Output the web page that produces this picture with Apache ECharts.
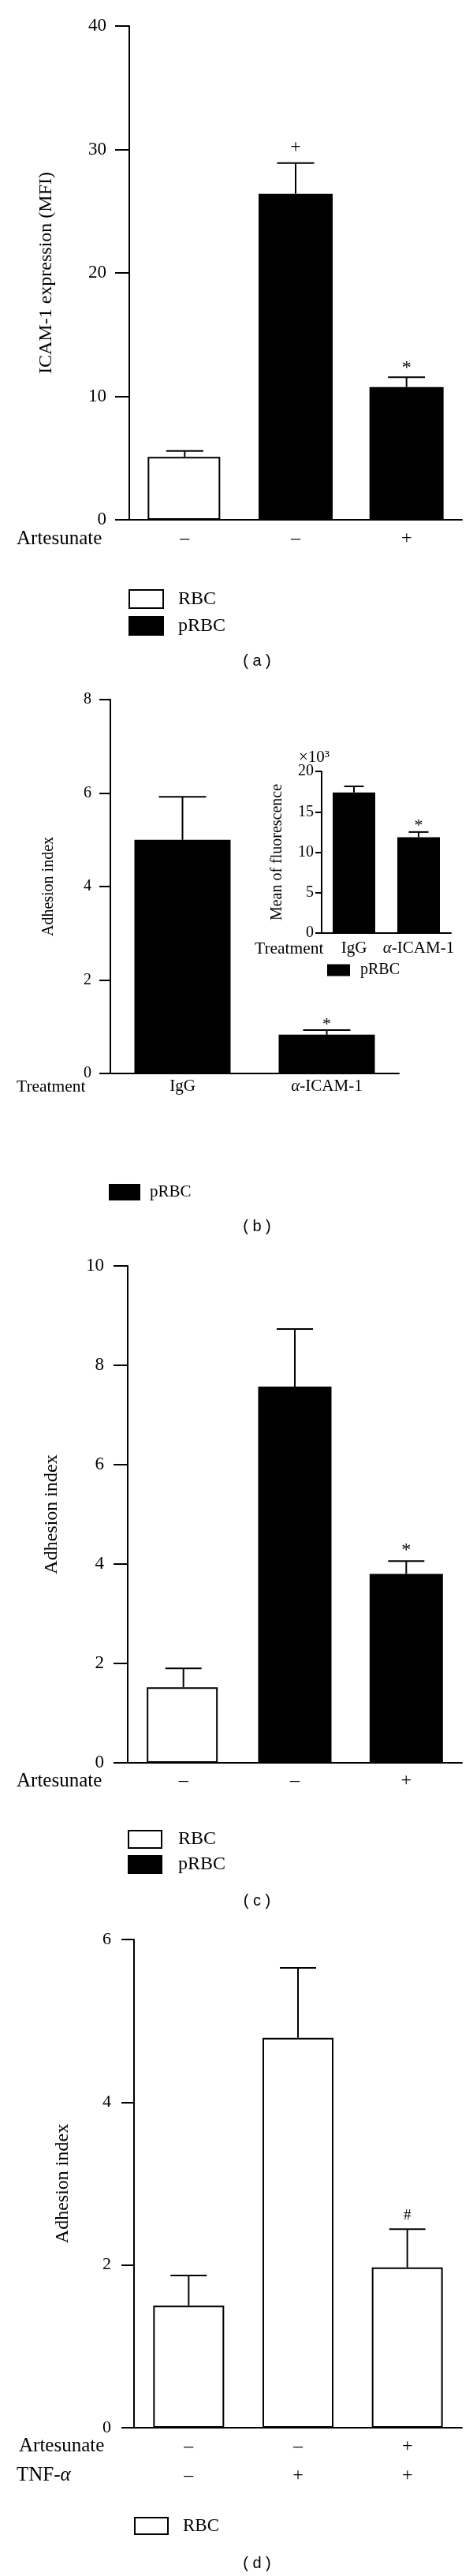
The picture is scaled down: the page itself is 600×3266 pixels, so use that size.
<!DOCTYPE html>
<html><head><meta charset="utf-8">
<script src="https://cdn.jsdelivr.net/npm/echarts@6/dist/echarts.min.js"></script>
<style>html,body{margin:0;padding:0;background:#fff}#c{width:600px;height:3266px}</style>
</head><body><div id="c"></div>
<script>
// ---------- Panel (a) ----------
const aArtesunate = ['–', '–', '+'];
const aRBC = [5.1, '-', '-'];
const aPRBC = ['-', 26.4, 10.75];
const aErr = [0.47, 2.5, 0.8];
const aMarks = ['', '+', '*'];
// ---------- Panel (b) main ----------
const bTreatment = ['IgG', 'α-ICAM-1'];
const bPRBC = [5.0, 0.83];
const bErr = [0.92, 0.1];
const bMarks = ['', '*'];
// ---------- Panel (b) inset (×10³) ----------
const biTreatment = ['IgG', 'α-ICAM-1'];
const biPRBC = [17.4, 11.85];
const biErr = [0.75, 0.65];
const biMarks = ['', '*'];
// ---------- Panel (c) ----------
const cArtesunate = ['–', '–', '+'];
const cRBC = [1.52, '-', '-'];
const cPRBC = ['-', 7.57, 3.80];
const cErr = [0.38, 1.16, 0.26];
const cMarks = ['', '', '*'];
// ---------- Panel (d) ----------
const dArtesunate = ['–', '–', '+'];
const dTNF = ['–', '+', '+'];
const dRBC = [1.50, 4.79, 1.97];
const dErr = [0.37, 0.86, 0.47];
const dMarks = ['', '', '#'];

const SERIF = 'Liberation Serif';
const SANS = 'Liberation Sans';

function merge(x, y) { return x.map((v, i) => (v === '-' ? y[i] : v)); }

function errSeries(idx, means, errs, marks, capHalf, markSize, markGaps) {
  return {
    type: 'custom', xAxisIndex: idx, yAxisIndex: idx, z: 5, silent: true,
    data: means.map((m, i) => [i, m, errs[i]]),
    renderItem(params, api) {
      const x = api.value(0), m = api.value(1), e = api.value(2);
      const p0 = api.coord([x, m]), p1 = api.coord([x, m + e]);
      const ch = [
        { type: 'line', shape: { x1: p0[0], y1: p0[1], x2: p1[0], y2: p1[1] }, style: { stroke: '#000', lineWidth: 2 } },
        { type: 'line', shape: { x1: p1[0] - capHalf, y1: p1[1], x2: p1[0] + capHalf, y2: p1[1] }, style: { stroke: '#000', lineWidth: 2 } }
      ];
      const mk = marks[params.dataIndex];
      if (mk) ch.push({ type: 'text', style: { text: mk, x: p1[0], y: p1[1] - (markGaps[mk] || 14), align: 'center', verticalAlign: 'middle', fontFamily: SERIF, fontSize: markSize, fill: '#000' } });
      return { type: 'group', children: ch };
    }
  };
}

function yAx(idx, max, interval, name, nameSize, nameGap, labelSize, margin, tickLen) {
  return {
    type: 'value', gridIndex: idx, min: 0, max: max, interval: interval,
    name: name, nameLocation: 'middle', nameGap: nameGap,
    nameTextStyle: { fontFamily: SERIF, fontSize: nameSize, color: '#000' },
    axisLine: { show: true, lineStyle: { color: '#000', width: 2 } },
    axisTick: { show: true, length: tickLen, lineStyle: { color: '#000', width: 2 } },
    splitLine: { show: false },
    axisLabel: { fontFamily: SERIF, fontSize: labelSize, color: '#000', margin: margin }
  };
}
function xAx(idx, data, labelSize, margin, lineHeight) {
  const lbl = { fontFamily: SERIF, fontSize: labelSize, color: '#000', margin: margin, interval: 0,
    formatter: v => v.replace('α', '{i|α}'),
    rich: { i: { fontStyle: 'italic', fontFamily: SERIF, fontSize: labelSize, color: '#000' } } };
  if (lineHeight) { lbl.lineHeight = lineHeight; lbl.rich.i.lineHeight = lineHeight; }
  return {
    type: 'category', gridIndex: idx, data: data,
    axisLine: { show: true, lineStyle: { color: '#000', width: 2 } },
    axisTick: { show: false },
    axisLabel: lbl
  };
}

const whiteBar = { color: '#fff', borderColor: '#000', borderWidth: 2 };
const blackBar = { color: '#000' };

function txt(x, y, text, size, family, align, rich) {
  return { type: 'text', x: x, y: y, silent: true,
    style: { text: text, fontFamily: family || SERIF, fontSize: size, fill: '#000',
      align: align || 'left', verticalAlign: 'middle', textAlign: align || 'left', textVerticalAlign: 'middle',
      rich: rich } };
}
function leg(left, top, w, h, gap, names, size, pad) {
  return { left: left, top: top, orient: 'vertical', padding: 0, itemWidth: w, itemHeight: h, itemGap: gap,
    selectedMode: false, icon: 'rect', data: names,
    itemStyle: { borderColor: '#000', borderWidth: 2 },
    textStyle: { fontFamily: SERIF, fontSize: size, color: '#000', padding: [0, 0, 0, pad] } };
}

const option = {
  animation: false,
  backgroundColor: '#fff',
  grid: [
    { left: 164, top: 33, width: 422, height: 626 },
    { left: 140, top: 887, width: 366, height: 474 },
    { left: 408, top: 978, width: 164, height: 205 },
    { left: 162, top: 1605, width: 424, height: 630 },
    { left: 170, top: 2459, width: 416, height: 619 }
  ],
  xAxis: [
    xAx(0, aArtesunate, 24, 12),
    xAx(1, bTreatment, 21, 6),
    xAx(2, biTreatment, 21, 9),
    xAx(3, cArtesunate, 24, 11),
    xAx(4, dArtesunate.map((a, i) => a + '\n' + dTNF[i]), 24, 5, 37)
  ],
  yAxis: [
    yAx(0, 40, 10, 'ICAM-1 expression (MFI)', 24, 93, 23, 29, 18),
    yAx(1, 8, 2, 'Adhesion index', 20, 68, 20, 24, 14),
    yAx(2, 20, 5, 'Mean of fluorescence', 20, 46, 20, 10, 8),
    yAx(3, 10, 2, 'Adhesion index', 24, 84, 23, 30, 18),
    yAx(4, 6, 2, 'Adhesion index', 24, 78, 22, 29, 16)
  ],
  legend: [
    leg(163, 747, 43, 23, 9, ['RBC', 'pRBC'], 24, 14),
    leg(138, 1501, 38, 19, 10, ['pRBC'], 21, 8),
    leg(415, 1220, 27, 13, 10, ['pRBC'], 20, 9),
    leg(162, 2320, 42, 22, 8, ['RBC', 'pRBC'], 24, 16),
    leg(170, 3191, 42, 21, 10, ['RBC'], 23, 14)
  ],
  graphic: [
    txt(21, 683, 'Artesunate', 25),
    txt(326, 838, '( a )', 20, SANS, 'center'),
    txt(21, 1378, 'Treatment', 21.5),
    txt(323, 1203, 'Treatment', 21.5),
    txt(379, 960, '×10³', 21),
    txt(326, 1555, '( b )', 20, SANS, 'center'),
    txt(21, 2258, 'Artesunate', 25),
    txt(326, 2410, '( c )', 20, SANS, 'center'),
    txt(24, 3101, 'Artesunate', 25),
    txt(21, 3138, 'TNF-{i|α}', 25, SERIF, 'left', { i: { fontStyle: 'italic', fontFamily: SERIF, fontSize: 25, fill: '#000' } }),
    txt(326, 3250, '( d )', 20, SANS, 'center')
  ],
  series: [
    { type: 'bar', name: 'RBC', xAxisIndex: 0, yAxisIndex: 0, data: aRBC, barWidth: 92, barGap: '-100%', itemStyle: whiteBar },
    { type: 'bar', name: 'pRBC', xAxisIndex: 0, yAxisIndex: 0, data: aPRBC, barWidth: 94, barGap: '-100%', itemStyle: blackBar },
    errSeries(0, merge(aRBC, aPRBC), aErr, aMarks, 23.5, 24, { '+': 20, '*': 12 }),

    { type: 'bar', name: 'pRBC', xAxisIndex: 1, yAxisIndex: 1, data: bPRBC, barWidth: 122, itemStyle: blackBar },
    errSeries(1, bPRBC, bErr, bMarks, 30, 22, { '*': 7 }),

    { type: 'bar', name: 'pRBC', xAxisIndex: 2, yAxisIndex: 2, data: biPRBC, barWidth: 54, itemStyle: blackBar },
    errSeries(2, biPRBC, biErr, biMarks, 12.5, 22, { '*': 8 }),

    { type: 'bar', name: 'RBC', xAxisIndex: 3, yAxisIndex: 3, data: cRBC, barWidth: 90, barGap: '-100%', itemStyle: whiteBar },
    { type: 'bar', name: 'pRBC', xAxisIndex: 3, yAxisIndex: 3, data: cPRBC, barWidth: 93, barGap: '-100%', itemStyle: blackBar },
    errSeries(3, merge(cRBC, cPRBC), cErr, cMarks, 23, 24, { '*': 14 }),

    { type: 'bar', name: 'RBC', xAxisIndex: 4, yAxisIndex: 4, data: dRBC, barWidth: 90, itemStyle: whiteBar },
    errSeries(4, dRBC, dErr, dMarks, 23, 19, { '#': 17 })
  ]
};
const chart = echarts.init(document.getElementById('c'), null, { renderer: 'canvas' });
chart.setOption(option);
</script></body></html>
